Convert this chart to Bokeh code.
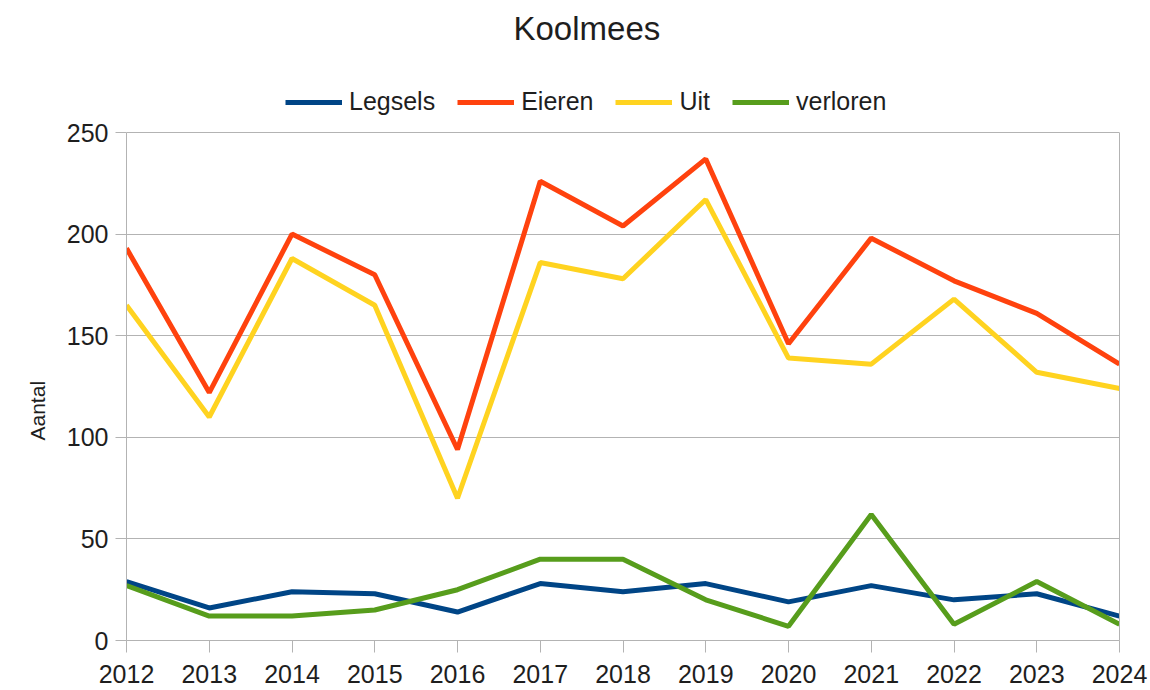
from bokeh.plotting import figure
from bokeh.models import (ColumnDataSource, Legend, LegendItem, FixedTicker, Range1d,
                          LinearAxis, Title)
from bokeh.embed import file_html
from bokeh.resources import INLINE

years = [2012, 2013, 2014, 2015, 2016, 2017, 2018, 2019, 2020, 2021, 2022, 2023, 2024]
legsels = [29, 16, 24, 23, 14, 28, 24, 28, 19, 27, 20, 23, 12]
eieren = [193, 122, 200, 180, 94, 226, 204, 237, 146, 198, 177, 161, 136]
uit = [165, 110, 188, 165, 70, 186, 178, 217, 139, 136, 168, 132, 124]
verloren = [27, 12, 12, 15, 25, 40, 40, 20, 7, 62, 8, 29, 8]
series_names = ["Legsels", "Eieren", "Uit", "verloren"]
colors = ["#004586", "#ff420e", "#ffd320", "#579d1c"]
y_ticks = [0, 50, 100, 150, 200, 250]
y_title = "Aantal"

FONT = "Liberation Sans"
TXT = "#1e1e1e"
GRID = "#b3b3b3"

# layout (pixels)
W, H = 1150, 690
LEFT, RIGHT, TOP, BOTTOM = 126, 31, 51, 50
AXIS_TOP_PX = 132          # where the 250 line sits
frame_h = H - TOP - BOTTOM
y_top = y_ticks[-1] * frame_h / (H - BOTTOM - AXIS_TOP_PX)

src = ColumnDataSource(dict(year=years, Legsels=legsels, Eieren=eieren, Uit=uit, verloren=verloren))

p = figure(width=W, height=H, output_backend="svg", toolbar_location=None,
           x_range=Range1d(years[0], years[-1]), y_range=Range1d(y_ticks[0], y_top),
           min_border_left=LEFT, min_border_right=RIGHT, min_border_top=TOP, min_border_bottom=BOTTOM)
p.background_fill_color = "white"
p.border_fill_color = "white"
p.outline_line_color = None

renderers = []
for name, col in zip(series_names, colors):
    r = p.line("year", name, source=src, line_color=col, line_width=5)
    renderers.append(r)

legend = Legend(items=[LegendItem(label=n, renderers=[r]) for n, r in zip(series_names, renderers)],
                orientation="horizontal", location=(159, 524),
                glyph_width=57, glyph_height=20, label_standoff=7, spacing=22,
                padding=5, margin=0,
                label_text_font=FONT, label_text_font_size="25px", label_text_color=TXT,
                border_line_color=None, background_fill_alpha=0)
p.add_layout(legend, "center")

p.title.text = "Koolmees"
p.title.text_font = FONT
p.title.text_font_size = "33px"
p.title.text_font_style = "normal"
p.title.text_color = TXT
p.title.align = "left"
p.title.offset = 387

p.xaxis.ticker = FixedTicker(ticks=years)
p.xaxis.major_label_text_font = FONT
p.xaxis.major_label_text_font_size = "25px"
p.xaxis.major_label_text_color = TXT
p.xaxis.axis_line_color = GRID
p.xaxis.major_tick_line_color = GRID
p.xaxis.major_tick_out = 12
p.xaxis.major_tick_in = 0
p.xaxis.minor_tick_line_color = None
p.xaxis.major_label_standoff = 12

p.yaxis.ticker = FixedTicker(ticks=y_ticks)
p.yaxis.bounds = (y_ticks[0], y_ticks[-1])
p.yaxis.major_label_text_font = FONT
p.yaxis.major_label_text_font_size = "25px"
p.yaxis.major_label_text_color = TXT
p.yaxis.axis_line_color = GRID
p.yaxis.major_tick_line_color = GRID
p.yaxis.major_tick_out = 11
p.yaxis.major_tick_in = 0
p.yaxis.minor_tick_line_color = None
p.yaxis.major_label_standoff = 7

ytitle = Title(text=y_title, align="left", offset=200, standoff=30,
               text_font=FONT, text_font_size="21px", text_font_style="normal", text_color=TXT)
p.add_layout(ytitle, "left")

raxis = LinearAxis(ticker=FixedTicker(ticks=y_ticks), bounds=(y_ticks[0], y_ticks[-1]),
                   axis_line_color=GRID, major_tick_line_color=None, minor_tick_line_color=None,
                   major_label_text_color=None, major_label_text_font_size="1px")
p.add_layout(raxis, "right")

p.xgrid.grid_line_color = None
p.ygrid.ticker = FixedTicker(ticks=y_ticks)
p.ygrid.grid_line_color = GRID
p.ygrid.grid_line_width = 1

open("out.html", "w").write(file_html(p, INLINE))
